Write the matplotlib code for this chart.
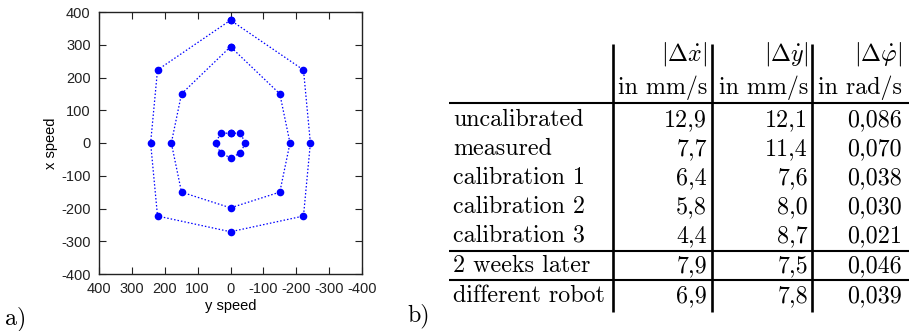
import numpy as np
import matplotlib
matplotlib.use('Agg')
import matplotlib.pyplot as plt

# speed pattern (y speed, x speed) in mm/s, three rings
outer_yspeed = [0, 222, 243, 222, 0, -222, -243, -222]
outer_xspeed = [375, 223, 0, -223, -271, -223, 0, 223]
inner_yspeed = [0, 149, 180, 149, 0, -150, -181, -150]
inner_xspeed = [294, 150, 0, -150, -198, -150, 0, 150]
small_yspeed = [0, 30, 45, 30, 0, -30, -45, -30]
small_xspeed = [30, 30, 0, -31, -45, -31, 0, 30]

ticks = [-400, -300, -200, -100, 0, 100, 200, 300, 400]

# table b)
row_names = ['uncalibrated', 'measured', 'calibration 1', 'calibration 2',
             'calibration 3', '2 weeks later', 'different robot']
col_heads = [r'$|\Delta\dot{x}|$', r'$|\Delta\dot{y}|$', r'$|\Delta\dot{\varphi}|$']
col_units = ['in mm/s', 'in mm/s', 'in rad/s']
err_dx = ['12,9', '7,7', '6,4', '5,8', '4,4', '7,9', '6,9']
err_dy = ['12,1', '11,4', '7,6', '8,0', '8,7', '7,5', '7,8']
err_dphi = ['0,086', '0,070', '0,038', '0,030', '0,021', '0,046', '0,039']

plt.rcParams['axes.unicode_minus'] = False
plt.rcParams['mathtext.fontset'] = 'cm'

W, H = 909, 331
fig = plt.figure(figsize=(W / 100, H / 100), dpi=100)


def draw_speed_plot(fig):
    ax = fig.add_axes([99 / W, 1 - 274 / H, 263 / W, 262 / H])
    for ys, xs in [(outer_yspeed, outer_xspeed), (inner_yspeed, inner_xspeed),
                   (small_yspeed, small_xspeed)]:
        # close the ring
        ys = ys + ys[:1]
        xs = xs + xs[:1]
        ax.plot(ys, xs, color='blue', linestyle=(0, (1.2, 1.6)), linewidth=0.9,
                marker='o', markersize=5.5, markeredgewidth=0)
    ax.set_xlim(400, -400)
    ax.set_ylim(-400, 400)
    ax.set_xticks(ticks)
    ax.set_yticks(ticks)
    ax.set_xticklabels([str(t) for t in ticks], fontsize=10.5, family='Liberation Sans')
    ax.set_yticklabels([str(t) for t in ticks], fontsize=10.5, family='Liberation Sans')
    ax.tick_params(direction='in', top=True, right=True, length=5, width=0.8, pad=6,
                   colors='#222222')
    ax.set_xlabel('y speed', fontsize=10.5, family='Liberation Sans', labelpad=2)
    ax.set_ylabel('x speed', fontsize=10.5, family='Liberation Sans', labelpad=2)
    for s in ax.spines.values():
        s.set_linewidth(1.0)
        s.set_color('#222222')


def draw_table(fig):
    # overlay axes in pixel coordinates, y pointing down
    tx = fig.add_axes([0, 0, 1, 1])
    tx.set_xlim(0, W)
    tx.set_ylim(H, 0)
    tx.axis('off')
    fs = 17.3
    font = 'cmr10'
    col_right = [707, 808, 902]
    vlines = [612.7, 711.7, 812.3]
    for x in vlines:
        tx.plot([x, x], [44, 312], color='black', linewidth=1.9, solid_capstyle='butt')
    for y in [103.3, 251, 280]:
        tx.plot([449, 909], [y, y], color='black', linewidth=1.5, solid_capstyle='butt')

    for j in range(3):
        tx.text(col_right[j], 61, col_heads[j], fontsize=fs, ha='right', va='baseline')
        tx.text(col_right[j], 94, col_units[j], fontsize=fs, ha='right', va='baseline',
                family=font)

    cols = [err_dx, err_dy, err_dphi]
    base = 126
    for i in range(len(row_names)):
        y = base + 29 * i + (1 if i >= 5 else 0) + (1 if i >= 6 else 0)
        tx.text(453, y, row_names[i], fontsize=fs, ha='left', va='baseline', family=font)
        for j in range(3):
            tx.text(col_right[j], y, cols[j][i], fontsize=fs, ha='right', va='baseline',
                    family=font)

    tx.text(5, 324, 'a)', fontsize=fs, ha='left', va='baseline', family=font)
    tx.text(407, 321, 'b)', fontsize=fs, ha='left', va='baseline', family=font)


draw_speed_plot(fig)
draw_table(fig)
fig.savefig('out.png', dpi=100)
